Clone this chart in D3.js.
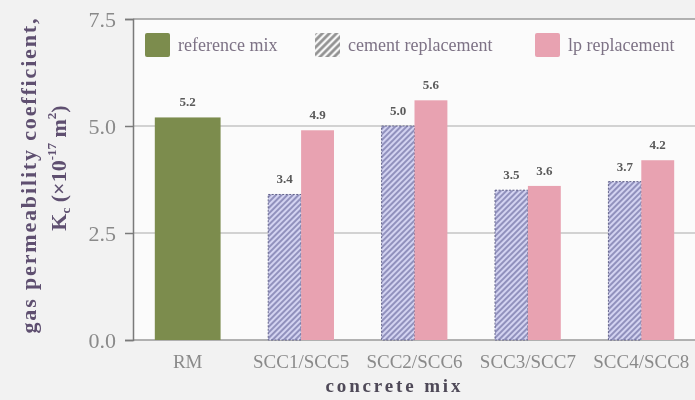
<!DOCTYPE html>
<html>
<head>
<meta charset="utf-8">
<script src="https://cdn.jsdelivr.net/npm/d3@7"></script>
<style>
  html, body { margin: 0; padding: 0; background: #f2f2f2; }
  svg { display: block; }
  text { font-family: "Liberation Serif", "DejaVu Serif", serif; }
</style>
</head>
<body>
<svg id="chart" width="695" height="400"></svg>
<script>
// Gas permeability per concrete mix (x10^-17 m^2)
const categories = ["RM", "SCC1/SCC5", "SCC2/SCC6", "SCC3/SCC7", "SCC4/SCC8"];
const referenceMix = [5.2, null, null, null, null];
const cementReplacement = [null, 3.4, 5.0, 3.5, 3.7];
const lpReplacement = [null, 4.9, 5.6, 3.6, 4.2];
const yTicks = [0, 2.5, 5.0, 7.5];
const legendLabels = ["reference mix", "cement replacement", "lp replacement"];

const colors = { ref: "#7c8c4e", lp: "#e8a2b1", hatchBase: "#d3d3f1", hatchLine: "#5a5a92" };

const svg = d3.select("#chart");
const W = 695, H = 400;
const plot = { left: 133, top: 19, right: 700, bottom: 340 };

const defs = svg.append("defs");
defs.append("filter").attr("id", "soft")
  .append("feGaussianBlur").attr("stdDeviation", 0.45);

// diagonal hatch for the cement-replacement bars
const hp = defs.append("pattern").attr("id", "hatch")
  .attr("patternUnits", "userSpaceOnUse").attr("width", 4).attr("height", 4)
  .attr("patternTransform", "rotate(45)");
hp.append("rect").attr("width", 4).attr("height", 4).attr("fill", colors.hatchBase);
hp.append("line").attr("x1", 1).attr("y1", 0).attr("x2", 1).attr("y2", 4)
  .attr("stroke", colors.hatchLine).attr("stroke-width", 1.1);

// coarser grey hatch for the legend swatch
const hl = defs.append("pattern").attr("id", "hatchLegend")
  .attr("patternUnits", "userSpaceOnUse").attr("width", 5).attr("height", 5)
  .attr("patternTransform", "rotate(45)");
hl.append("rect").attr("width", 5).attr("height", 5).attr("fill", "#f6f6f6");
hl.append("line").attr("x1", 1.5).attr("y1", 0).attr("x2", 1.5).attr("y2", 5)
  .attr("stroke", "#8e8e8e").attr("stroke-width", 2.6);

const g = svg.append("g").attr("filter", "url(#soft)");

// plot background
g.append("rect").attr("x", plot.left).attr("y", plot.top)
  .attr("width", plot.right - plot.left).attr("height", plot.bottom - plot.top)
  .attr("fill", "#fbfbfb");

const y = d3.scaleLinear().domain([0, 7.5]).range([plot.bottom, plot.top]);
const x0 = d3.scaleBand().domain(categories).range([131, 698])
  .paddingInner(0.42).paddingOuter(0.21);
const x1 = d3.scaleBand().domain(["cement", "lp"]).range([0, x0.bandwidth()]);

// gridlines
g.append("g").selectAll("line").data(yTicks.filter(d => d > 0)).join("line")
  .attr("x1", plot.left).attr("x2", W)
  .attr("y1", d => y(d)).attr("y2", d => y(d))
  .attr("stroke", d => d === 7.5 ? "#9a9a9a" : "#c4c4c4")
  .attr("stroke-width", 1.5);

// baseline
g.append("line").attr("x1", plot.left).attr("x2", W)
  .attr("y1", y(0)).attr("y2", y(0))
  .attr("stroke", "#9a9a9a").attr("stroke-width", 1.5);

// y axis
const yAxis = d3.axisLeft(y).tickValues(yTicks).tickFormat(d3.format(".1f"))
  .tickSize(8).tickPadding(9);
const ya = g.append("g").attr("transform", `translate(${plot.left},0)`).call(yAxis);
ya.select(".domain").attr("stroke", "#7a7a7a").attr("stroke-width", 1.5);
ya.selectAll(".tick line").attr("stroke", "#7a7a7a").attr("stroke-width", 1.5);
ya.selectAll(".tick text").attr("fill", "#8a8a8a").attr("font-size", 22)
  .attr("font-family", "Liberation Serif").attr("dy", "0.34em");

// x axis labels
const xAxis = d3.axisBottom(x0).tickSize(0).tickPadding(15);
const xa = g.append("g").attr("transform", `translate(0,${plot.bottom})`).call(xAxis);
xa.select(".domain").remove();
xa.selectAll(".tick text").attr("fill", "#8a8a8a").attr("font-size", 19)
  .attr("font-family", "Liberation Serif");

// bars
const bars = g.append("g");
const valueFmt = d3.format(".1f");
const labels = [];

categories.forEach((c, i) => {
  if (referenceMix[i] != null) {
    const v = referenceMix[i];
    bars.append("rect").attr("x", x0(c)).attr("y", y(v))
      .attr("width", x0.bandwidth()).attr("height", y(0) - y(v))
      .attr("fill", colors.ref);
    labels.push({ x: x0(c) + x0.bandwidth() / 2, v });
  }
  if (cementReplacement[i] != null) {
    const v = cementReplacement[i];
    bars.append("rect").attr("x", x0(c) + x1("cement")).attr("y", y(v))
      .attr("width", x1.bandwidth()).attr("height", y(0) - y(v))
      .attr("fill", "url(#hatch)")
      .attr("stroke", "#62628a").attr("stroke-width", 1).attr("stroke-dasharray", "2,1.5");
    labels.push({ x: x0(c) + x1("cement") + x1.bandwidth() / 2, v });
  }
  if (lpReplacement[i] != null) {
    const v = lpReplacement[i];
    bars.append("rect").attr("x", x0(c) + x1("lp")).attr("y", y(v))
      .attr("width", x1.bandwidth()).attr("height", y(0) - y(v))
      .attr("fill", colors.lp);
    labels.push({ x: x0(c) + x1("lp") + x1.bandwidth() / 2, v });
  }
});

// value labels
g.append("g").selectAll("text").data(labels).join("text")
  .attr("x", d => d.x).attr("y", d => y(d.v) - 11)
  .attr("text-anchor", "middle").attr("font-size", 13).attr("font-weight", "bold")
  .attr("fill", "#5a5a5a").text(d => valueFmt(d.v));

// legend
const lg = g.append("g");
const legendItems = [
  { label: legendLabels[0], fill: colors.ref, x: 145, tx: 178 },
  { label: legendLabels[1], fill: "url(#hatchLegend)", x: 315, tx: 348 },
  { label: legendLabels[2], fill: colors.lp, x: 535, tx: 568 }
];
lg.selectAll("rect").data(legendItems).join("rect")
  .attr("x", d => d.x).attr("y", 33).attr("width", 25).attr("height", 24)
  .attr("rx", 2).attr("fill", d => d.fill);
lg.selectAll("text").data(legendItems).join("text")
  .attr("x", d => d.tx).attr("y", 51).attr("font-size", 18)
  .attr("fill", "#7d7285").text(d => d.label);

// axis titles
g.append("text").attr("transform", "translate(36,176) rotate(-90)")
  .attr("text-anchor", "middle").attr("font-size", 22).attr("font-weight", "bold")
  .attr("fill", "#5e5070").attr("textLength", 315).attr("lengthAdjust", "spacing")
  .text("gas permeability coefficient,");

const yt2 = g.append("text").attr("transform", "translate(66,168) rotate(-90)")
  .attr("text-anchor", "middle").attr("font-size", 22).attr("font-weight", "bold")
  .attr("fill", "#5e5070");
yt2.append("tspan").text("K");
yt2.append("tspan").attr("font-size", 13).attr("dy", 4).text("c");
yt2.append("tspan").attr("dy", -4).text(" (\u00d710");
yt2.append("tspan").attr("font-size", 13).attr("dy", -10).text("-17");
yt2.append("tspan").attr("dy", 10).text(" m");
yt2.append("tspan").attr("font-size", 13).attr("dy", -10).text("2");
yt2.append("tspan").attr("dy", 10).text(")");

g.append("text").attr("x", 393).attr("y", 392)
  .attr("text-anchor", "middle").attr("font-size", 19).attr("font-weight", "bold")
  .attr("fill", "#4f4a58").attr("textLength", 135).attr("lengthAdjust", "spacing")
  .text("concrete mix");
</script>
</body>
</html>
